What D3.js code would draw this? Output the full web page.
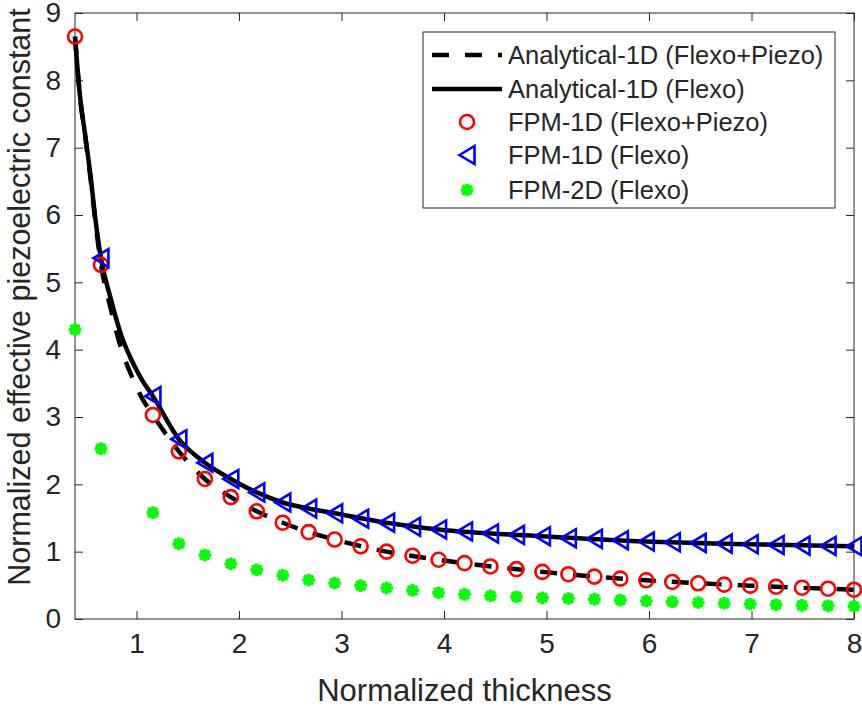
<!DOCTYPE html>
<html>
<head>
<meta charset="utf-8">
<script src="https://d3js.org/d3.v7.min.js"></script>
<style>
  body { margin: 0; background: #fff; }
  text { font-family: "Liberation Sans", Arial, sans-serif; fill: #262626; }
</style>
</head>
<body>
<div id="chart"></div>
<script>
// marker positions (normalized thickness)
var thick = [0.4, 0.653, 1.16, 1.413, 1.667, 1.92, 2.173, 2.427, 2.68, 2.933,
             3.187, 3.44, 3.693, 3.947, 4.2, 4.453, 4.707, 4.96, 5.213, 5.467,
             5.72, 5.973, 6.227, 6.48, 6.733, 6.987, 7.24, 7.493, 7.747, 8];
var fpm1dFP = [8.65, 5.26, 3.03, 2.49, 2.08, 1.81, 1.60, 1.43, 1.29, 1.18,
               1.08, 1.00, 0.94, 0.88, 0.83, 0.78, 0.74, 0.70, 0.665, 0.63,
               0.60, 0.575, 0.55, 0.53, 0.51, 0.495, 0.48, 0.465, 0.45, 0.435];
var fpm1dF = [null, 5.36, 3.31, 2.67, 2.32, 2.08, 1.88, 1.73, 1.64, 1.57,
              1.49, 1.43, 1.37, 1.33, 1.30, 1.27, 1.25, 1.23, 1.20, 1.19,
              1.17, 1.15, 1.14, 1.13, 1.12, 1.11, 1.10, 1.09, 1.085, 1.08];
var fpm2dF = [4.30, 2.53, 1.58, 1.12, 0.95, 0.82, 0.73, 0.65, 0.58, 0.535,
              0.495, 0.46, 0.425, 0.39, 0.365, 0.345, 0.33, 0.315, 0.305, 0.295,
              0.28, 0.267, 0.255, 0.245, 0.233, 0.222, 0.212, 0.203, 0.197, 0.19];

// analytical curves
var anaX = [0.4, 0.45, 0.5, 0.55, 0.6, 0.65, 0.75, 0.85, 0.95, 1.05, 1.16,
            1.413, 1.667, 1.92, 2.173, 2.427, 2.68, 2.933, 3.44, 3.947, 4.96,
            5.973, 6.987, 8];
var anaFP = [8.65, 7.74, 7.16, 6.56, 5.88, 5.3, 4.6, 4.02, 3.62, 3.29, 3.03,
             2.49, 2.08, 1.81, 1.60, 1.43, 1.29, 1.18, 1.00, 0.88, 0.70,
             0.575, 0.495, 0.435];
var anaF = [8.65, 7.75, 7.18, 6.6, 5.93, 5.39, 4.75, 4.22, 3.85, 3.56, 3.31,
            2.67, 2.32, 2.08, 1.88, 1.73, 1.64, 1.57, 1.43, 1.33, 1.23,
            1.15, 1.11, 1.08];

var xTicks = [1, 2, 3, 4, 5, 6, 7, 8];
var yTicks = [0, 1, 2, 3, 4, 5, 6, 7, 8, 9];
var legendLabels = ["Analytical-1D (Flexo+Piezo)", "Analytical-1D (Flexo)",
                    "FPM-1D (Flexo+Piezo)", "FPM-1D (Flexo)", "FPM-2D (Flexo)"];

var margin = {top: 13, right: 8, bottom: 90, left: 75},
    width = 862 - margin.left - margin.right,
    height = 709 - margin.top - margin.bottom;

var svg = d3.select("#chart")
  .append("svg")
    .attr("width", 862)
    .attr("height", 709)
  .append("g")
    .attr("transform", "translate(" + margin.left + "," + margin.top + ")");

var x = d3.scaleLinear().domain([0.4, 8]).range([0, width]);
var y = d3.scaleLinear().domain([0, 9]).range([height, 0]);

var axisCol = "#262626";

// box + inward ticks on all four sides
svg.append("rect")
  .attr("width", width).attr("height", height)
  .attr("fill", "none").attr("stroke", axisCol).attr("stroke-width", 1);

function styleAxis(g) {
  g.select(".domain").remove();
  g.selectAll(".tick line").attr("stroke", axisCol);
  g.selectAll(".tick text")
    .style("font-size", "28px")
    .style("font-family", "'Liberation Sans', Arial, sans-serif")
    .attr("fill", axisCol);
}

svg.append("g")
  .attr("transform", "translate(0," + height + ")")
  .call(d3.axisBottom(x).tickValues(xTicks).tickSizeInner(-8).tickPadding(14).tickFormat(d3.format("d")))
  .call(styleAxis);
svg.append("g")
  .call(d3.axisTop(x).tickValues(xTicks).tickSizeInner(-8).tickFormat(""))
  .call(styleAxis);
svg.append("g")
  .call(d3.axisLeft(y).tickValues(yTicks).tickSizeInner(-8).tickPadding(14).tickFormat(d3.format("d")))
  .call(styleAxis);
svg.append("g")
  .attr("transform", "translate(" + width + ",0)")
  .call(d3.axisRight(y).tickValues(yTicks).tickSizeInner(-8).tickFormat(""))
  .call(styleAxis);

// axis titles
svg.append("text")
  .attr("x", width / 2).attr("y", height + 82)
  .attr("text-anchor", "middle")
  .style("font-size", "31px")
  .text("Normalized thickness");
svg.append("text")
  .attr("transform", "translate(" + (-45) + "," + 284 + ") rotate(-90)")
  .attr("text-anchor", "middle")
  .style("font-size", "30.5px")
  .text("Normalized effective piezoelectric constant");

// analytical curves
var line = d3.line()
  .x(function(d) { return x(d[0]); })
  .y(function(d) { return y(d[1]); })
  .curve(d3.curveMonotoneX);

svg.append("path")
  .datum(d3.zip(anaX, anaFP))
  .attr("fill", "none").attr("stroke", "#000").attr("stroke-width", 4.5)
  .attr("stroke-dasharray", "17,16")
  .attr("d", line);
svg.append("path")
  .datum(d3.zip(anaX, anaF))
  .attr("fill", "none").attr("stroke", "#000").attr("stroke-width", 4.5)
  .attr("d", line);

// marker helpers
function drawCircle(g, cx, cy) {
  g.append("circle").attr("cx", cx).attr("cy", cy).attr("r", 7)
    .attr("fill", "none").attr("stroke", "#ff0000").attr("stroke-width", 2.6);
}
function drawTri(g, cx, cy) {
  var w = 15, h = 18;
  var p = d3.path();
  p.moveTo(cx - w / 2, cy);
  p.lineTo(cx + w / 2, cy - h / 2);
  p.lineTo(cx + w / 2, cy + h / 2);
  p.closePath();
  g.append("path").attr("d", p.toString())
    .attr("fill", "none").attr("stroke", "#0000ff").attr("stroke-width", 2.6)
    .attr("stroke-linejoin", "miter");
}
function drawStar(g, cx, cy) {
  var r = 6.3, d = r * 0.72;
  var s = "M" + (cx - r) + "," + cy + "H" + (cx + r) +
          "M" + cx + "," + (cy - r) + "V" + (cy + r) +
          "M" + (cx - d) + "," + (cy - d) + "L" + (cx + d) + "," + (cy + d) +
          "M" + (cx - d) + "," + (cy + d) + "L" + (cx + d) + "," + (cy - d);
  g.append("path").attr("d", s)
    .attr("fill", "none").attr("stroke", "#00ff00").attr("stroke-width", 3.6);
}

var mk = svg.append("g");
thick.forEach(function(t, i) { drawCircle(mk, x(t), y(fpm1dFP[i])); });
thick.forEach(function(t, i) { if (fpm1dF[i] != null) drawTri(mk, x(t), y(fpm1dF[i])); });
thick.forEach(function(t, i) { drawStar(mk, x(t), y(fpm2dF[i])); });

// legend
var lg = svg.append("g").attr("transform", "translate(" + (423 - margin.left) + "," + (32 - margin.top) + ")");
lg.append("rect").attr("width", 412).attr("height", 176)
  .attr("fill", "#fff").attr("stroke", axisCol).attr("stroke-width", 1);
var rowY = [23, 57, 90, 123, 158];
legendLabels.forEach(function(lab, i) {
  var ry = rowY[i];
  if (i === 0) {
    lg.append("line").attr("x1", 9).attr("x2", 79).attr("y1", ry).attr("y2", ry)
      .attr("stroke", "#000").attr("stroke-width", 4.5).attr("stroke-dasharray", "17,16");
  } else if (i === 1) {
    lg.append("line").attr("x1", 9).attr("x2", 79).attr("y1", ry).attr("y2", ry)
      .attr("stroke", "#000").attr("stroke-width", 4.5);
  } else if (i === 2) {
    drawCircle(lg, 44, ry);
  } else if (i === 3) {
    drawTri(lg, 44, ry);
  } else {
    drawStar(lg, 44, ry);
  }
  lg.append("text").attr("x", 85).attr("y", ry).attr("dy", "0.35em")
    .style("font-size", "25.5px").text(lab);
});
</script>
</body>
</html>
